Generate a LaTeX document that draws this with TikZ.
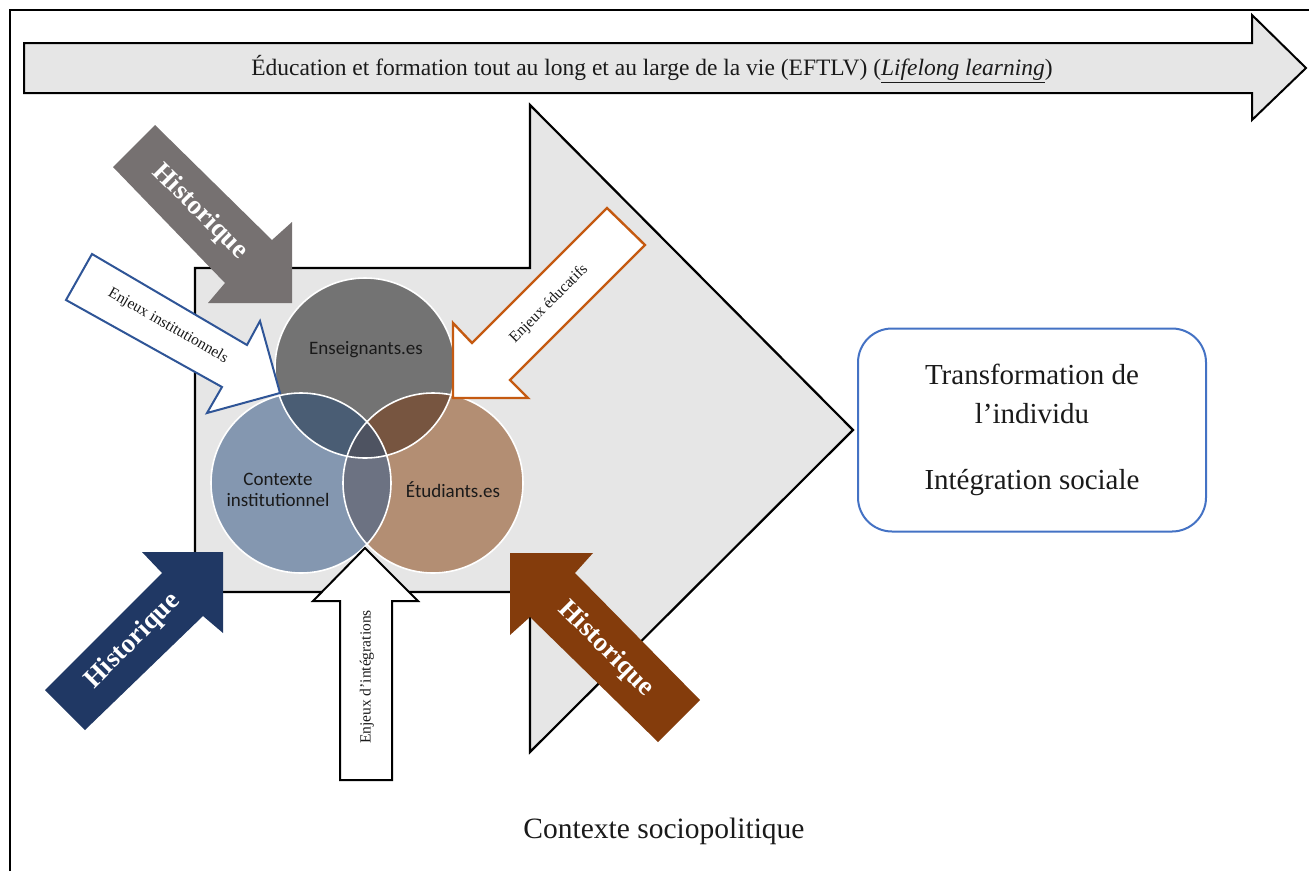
\documentclass[tikz,border=0pt]{standalone}
\usepackage{fontspec}
\setmainfont{Liberation Serif}
\newfontfamily\calibri{Carlito}
\usetikzlibrary{calc}
\definecolor{ink}      {HTML}{1A1A1A}
\definecolor{panel}    {HTML}{E6E6E6}
\definecolor{histgray} {HTML}{767171}
\definecolor{histblue} {HTML}{203864}
\definecolor{histbrown}{HTML}{843C0C}
\definecolor{instblue} {HTML}{2F5597}
\definecolor{eduorange}{HTML}{C55A11}
\definecolor{boxblue}  {HTML}{4472C4}
\definecolor{ensfill}  {HTML}{737373}
\definecolor{ctxfill}  {HTML}{8497B0}
\definecolor{etufill}  {HTML}{B38E73}
\definecolor{ensctx}   {HTML}{4A5D74}
\definecolor{ensetu}   {HTML}{775540}
\definecolor{ctxetu}   {HTML}{6C7282}
\definecolor{allthree} {HTML}{4E5361}
\tikzset{
  % --- shapes
  frame/.style    = {draw=black, line width=2.5pt},
  band/.style     = {draw=black, line width=2pt, fill=panel, line join=miter},
  hollow/.style   = {fill=white, line width=2pt, line join=miter},
  venn/.style     = {draw=white, line width=1.6pt},
  outbox/.style   = {draw=boxblue, line width=2pt, rounded corners=34pt, fill=white,
                     minimum width=348pt, minimum height=203pt, align=center,
                     font=\fontsize{29}{39}\selectfont, text=ink},
  % --- labels
  toplbl/.style   = {font=\fontsize{23.5}{26}\selectfont, text=ink},
  hlbl/.style     = {font=\fontsize{27}{30}\selectfont\bfseries, text=white},
  slbl/.style     = {font=\fontsize{15.5}{17}\selectfont, text=ink},
  clbl/.style     = {font=\calibri\fontsize{19}{21}\selectfont, align=center, text=ink},
  ctxlbl/.style   = {font=\fontsize{29.5}{32}\selectfont, text=ink},
}
\begin{document}
\begin{tikzpicture}[x=1pt,y=-1pt]
  \useasboundingbox (0,0) rectangle (1309,871);
  \draw[frame] (10,871) -- (10,10) -- (1309,10);

  % lifelong learning band
  \draw[band] (24,43) -- (1252,43) -- (1252,15) -- (1306,68) -- (1252,120)
              -- (1252,93) -- (24,93) -- cycle;
  \node[toplbl] (eftlv) at (652,69) {Éducation et formation tout au long et au large de la vie (EFTLV) (\underline{\textit{Lifelong learning}})};

  % big arrow
  \draw[band, line width=2.2pt] (195,268) -- (530,268) -- (530,105) -- (853,430)
              -- (530,752) -- (530,592) -- (195,592) -- cycle;

  % --- venn
  \coordinate (ens) at (365,368);
  \coordinate (ctx) at (301,483);
  \coordinate (etu) at (433,483);
  \fill[ensfill] (ens) circle (90pt);
  \fill[ctxfill] (ctx) circle (90pt);
  \fill[etufill] (etu) circle (90pt);
  \begin{scope}
    \clip (ens) circle (90pt);
    \fill[ensctx] (ctx) circle (90pt);
    \fill[ensetu] (etu) circle (90pt);
  \end{scope}
  \begin{scope}
    \clip (ctx) circle (90pt);
    \fill[ctxetu] (etu) circle (90pt);
    \clip (ens) circle (90pt);
    \fill[allthree] (etu) circle (90pt);
  \end{scope}
  \foreach \c in {ens,ctx,etu}
    \draw[venn] (\c) circle (90pt);
  \node[clbl] (enslbl) at (366,350) {Enseignants.es};
  \node[clbl] (ctxlbl) at (278,490) {Contexte\\institutionnel};
  \node[clbl] (etulbl) at (453,490) {Étudiants.es};

  % --- historique arrows
  \fill[histgray] (155,125) -- (272,240) -- (292,222) -- (292,303) -- (208,303)
                  -- (225,283) -- (113,167) -- cycle;
  \node[hlbl, rotate=-45] (hgray) at (200,212) {Historique};
  \fill[histblue] (45,690) -- (162,573) -- (142,552) -- (223,552) -- (223,633)
                  -- (203,616) -- (85,730) -- cycle;
  \node[hlbl, rotate=45] (hblue) at (133,641) {Historique};
  \fill[histbrown] (510,553) -- (593,553) -- (575,573) -- (700,700) -- (658,742)
                   -- (530,617) -- (510,635) -- cycle;
  \node[hlbl, rotate=-45] (hbrown) at (606,649) {Historique};

  % --- enjeux arrows
  \draw[hollow, draw=instblue] (92,254) -- (247,345) -- (260,321) -- (280,393)
                  -- (207,413) -- (222,387) -- (66,300) -- cycle;
  \node[slbl, rotate=-30] (einst) at (168,326) {Enjeux institutionnels};
  \draw[hollow, draw=eduorange, line width=2.4pt] (607,208) -- (645,245) -- (510,380)
                  -- (528,398) -- (453,398) -- (453,323) -- (472,343) -- cycle;
  \node[slbl, rotate=45] (eedu) at (549,304) {Enjeux éducatifs};
  \draw[hollow, draw=black] (365,548) -- (418,601) -- (392,601) -- (392,780)
                  -- (340,780) -- (340,601) -- (313,601) -- cycle;
  \node[slbl, rotate=90] (einteg) at (367,677) {Enjeux d’intégrations};

  % --- outcome
  \node[outbox] (out) at (1032,430) {Transformation de\\l’individu\\[27pt]Intégration sociale};
  \node[ctxlbl] (socio) at (664,831) {Contexte sociopolitique};
\end{tikzpicture}
\end{document}
